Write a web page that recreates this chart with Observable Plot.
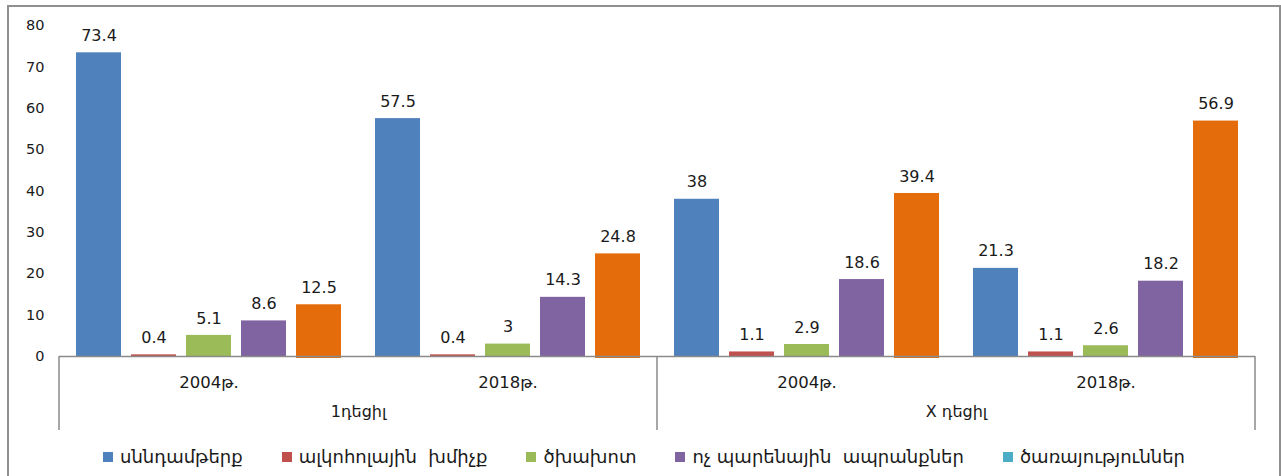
<!DOCTYPE html>
<html><head><meta charset="utf-8">
<script src="https://cdn.jsdelivr.net/npm/d3@7"></script>
<script src="https://cdn.jsdelivr.net/npm/@observablehq/plot@0.6"></script>
<style>
body{margin:0;background:#fff;font-family:"DejaVu Sans",sans-serif;width:1281px;height:476px;overflow:hidden;position:relative;}
#frame{position:absolute;left:7px;top:5px;width:1274px;height:500px;border:2px solid #8f8f8f;box-sizing:border-box;}
#chart{position:absolute;left:0;top:0;}
#legend{position:absolute;left:7px;top:447px;width:1274px;display:flex;justify-content:center;gap:39px;font-size:18px;color:#1a1a1a;line-height:20px;}
.item{display:flex;align-items:center;gap:7px}
.sw{width:10px;height:10px;display:inline-block}
</style></head><body>
<div id="frame"></div><div id="chart"></div><div id="legend"></div>
<script>
const deciles = ["1դեցիլ", "X դեցիլ"];
const years = ["2004թ.", "2018թ."];
const series = ["սննդամթերք", "ալկոհոլային  խմիչք", "ծխախոտ", "ոչ պարենային  ապրանքներ", "ծառայություններ"];
const food = [73.4, 57.5, 38, 21.3];
const alcohol = [0.4, 0.4, 1.1, 1.1];
const tobacco = [5.1, 3, 2.9, 2.6];
const nonfood = [8.6, 14.3, 18.6, 18.2];
const services = [12.5, 24.8, 39.4, 56.9];
const yTicks = [0, 10, 20, 30, 40, 50, 60, 70, 80];
const barColors = ["#4f81bd", "#c0504d", "#9bbb59", "#8064a2", "#e46c0a"];
const legendColors = ["#4f81bd", "#c0504d", "#9bbb59", "#8064a2", "#4bacc6"];

const seriesValues = [food, alcohol, tobacco, nonfood, services];
const groups = deciles.flatMap(d => years.map(y => ({decile: d, year: y, key: d + "|" + y})));
const keys = groups.map(g => g.key);
const rows = [];
seriesValues.forEach((vals, si) => vals.forEach((v, gi) => rows.push({key: keys[gi], series: series[si], value: v})));

const plot = Plot.plot({
  width: 1281, height: 440,
  marginLeft: 57, marginRight: 25, marginTop: 25, marginBottom: 84,
  style: {fontFamily: "DejaVu Sans", fontSize: "14px", color: "#1a1a1a", background: "transparent"},
  fx: {domain: keys, padding: 0, label: null},
  x: {domain: series, paddingInner: 0.19, paddingOuter: 0.3, axis: null},
  y: {domain: [0, 80], label: null},
  color: {domain: series, range: barColors},
  marks: [
    Plot.axisY({ticks: yTicks, tickSize: 0, tickPadding: 15, label: null, fontSize: 14.5}),
    Plot.barY(rows.filter(r => r.series !== series[4]), {fx: "key", x: "series", y: "value", fill: "series"}),
    Plot.barY(rows.filter(r => r.series === series[4]), {fx: "key", x: "series", y: "value", fill: "series", insetBottom: -2}),
    Plot.ruleY([0], {stroke: "#8a8a8a", strokeWidth: 1.5}),
    Plot.text(rows, {fx: "key", x: "series", y: "value", text: d => String(d.value), dy: -17, fontSize: 16, fill: "#1a1a1a"}),
    Plot.axisFx({anchor: "bottom", tickSize: 0, tickPadding: 20, tickFormat: k => k.split("|")[1], fontSize: 16.5, label: null}),
    Plot.text(deciles, {fx: d => d + "|" + years[0], frameAnchor: "bottom-right", text: d => d, dy: 60, fontSize: 16, textAnchor: "middle", fill: "#1a1a1a"})
  ]
});
document.getElementById("chart").appendChild(plot);

// group dividers below the baseline, positioned from the fx and y scales
const fx = plot.scale("fx"), ys = plot.scale("y");
const y0 = ys.apply(0);
const divX = [fx.apply(keys[0]), fx.apply(keys[2]), fx.apply(keys[3]) + fx.bandwidth];
d3.select(plot).append("g").selectAll("line").data(divX).join("line")
  .attr("x1", d => d).attr("x2", d => d)
  .attr("y1", y0).attr("y2", y0 + 74)
  .attr("stroke", "#8a8a8a").attr("stroke-width", 1.5);

const legend = d3.select("#legend");
series.forEach((s, i) => {
  const it = legend.append("div").attr("class", "item");
  it.append("span").attr("class", "sw").style("background", legendColors[i]);
  it.append("span").text(s).style("white-space", "pre");
});
</script></body></html>
